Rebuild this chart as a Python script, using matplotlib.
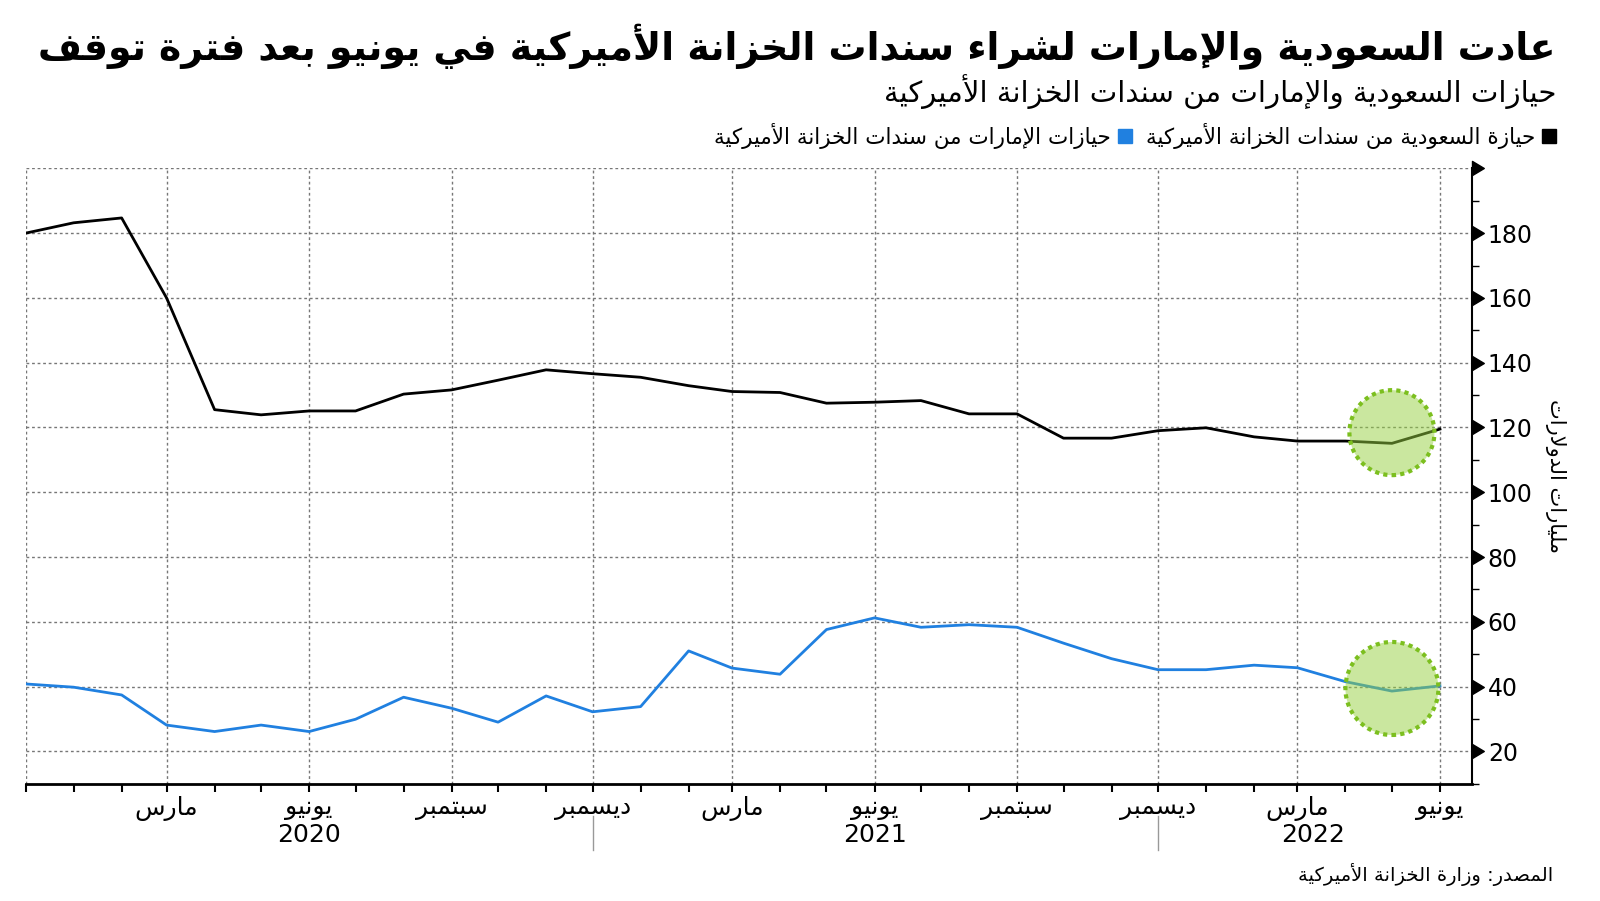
import numpy as np
import pandas as pd
import matplotlib
matplotlib.use('Agg')
import matplotlib.pyplot as plt
import matplotlib.dates as mdates
import matplotlib.ticker as mticker
from matplotlib.path import Path
from matplotlib.patches import Rectangle
from matplotlib.transforms import blended_transform_factory

plt.rcParams['font.family'] = ['DejaVu Sans']

# monthly US treasury holdings, billions of dollars (Dec 2019 - Jun 2022)
months = pd.date_range('2019-12-01', '2022-06-01', freq='MS')
saudi = [180.0, 183.2, 184.7, 160.0, 125.5, 123.9, 125.1, 125.1, 130.3, 131.6,
         134.6, 137.8, 136.6, 135.5, 132.9, 131.1, 130.8, 127.5, 127.8, 128.3,
         124.2, 124.2, 116.7, 116.7, 119.0, 119.9, 117.1, 115.8, 115.8, 115.1, 119.5]
uae = [40.8, 39.8, 37.4, 28.1, 26.1, 28.1, 26.1, 29.9, 36.7, 33.3,
       29.0, 37.1, 32.2, 33.8, 51.0, 45.7, 43.8, 57.6, 61.2, 58.3,
       59.1, 58.3, 53.4, 48.6, 45.2, 45.2, 46.6, 45.8, 41.5, 38.6, 40.2]

month_names = {3: 'مارس', 6: 'يونيو', 9: 'سبتمبر', 12: 'ديسمبر'}
year_labels = ['2020', '2021', '2022']
year_label_dates = ['2020-06-01', '2021-06-01', '2022-03-11']
year_breaks = ['2020-12-01', '2021-12-01']
y_ticks = [20, 40, 60, 80, 100, 120, 140, 160, 180, 200]

# highlighted June restart (circle centres)
highlight_date = '2022-05-01'
highlight_vals = [118.4, 39.4]
highlight_diam = [85, 93]   # pixels

title = 'عادت السعودية والإمارات لشراء سندات الخزانة الأميركية في يونيو بعد فترة توقف'
subtitle = 'حيازات السعودية والإمارات من سندات الخزانة الأميركية'
leg_saudi = 'حيازة السعودية من سندات الخزانة الأميركية'
leg_uae = 'حيازات الإمارات من سندات الخزانة الأميركية'
y_label = 'مليارات الدولارات'
source = 'المصدر: وزارة الخزانة الأميركية'

black = '#000000'
blue = '#2080e0'

# --- small arabic shaper: matplotlib has no shaping / bidi, so use presentation forms
AR_FORMS = {
    'ء': (0xFE80, 1), 'آ': (0xFE81, 2), 'أ': (0xFE83, 2), 'ؤ': (0xFE85, 2), 'إ': (0xFE87, 2),
    'ئ': (0xFE89, 4), 'ا': (0xFE8D, 2), 'ب': (0xFE8F, 4), 'ة': (0xFE93, 2), 'ت': (0xFE95, 4),
    'ث': (0xFE99, 4), 'ج': (0xFE9D, 4), 'ح': (0xFEA1, 4), 'خ': (0xFEA5, 4), 'د': (0xFEA9, 2),
    'ذ': (0xFEAB, 2), 'ر': (0xFEAD, 2), 'ز': (0xFEAF, 2), 'س': (0xFEB1, 4), 'ش': (0xFEB5, 4),
    'ص': (0xFEB9, 4), 'ض': (0xFEBD, 4), 'ط': (0xFEC1, 4), 'ظ': (0xFEC5, 4), 'ع': (0xFEC9, 4),
    'غ': (0xFECD, 4), 'ف': (0xFED1, 4), 'ق': (0xFED5, 4), 'ك': (0xFED9, 4), 'ل': (0xFEDD, 4),
    'م': (0xFEE1, 4), 'ن': (0xFEE5, 4), 'ه': (0xFEE9, 4), 'و': (0xFEED, 2), 'ى': (0xFEEF, 2),
    'ي': (0xFEF1, 4),
}
LAM_ALEF = {'آ': 0xFEF5, 'أ': 0xFEF7, 'إ': 0xFEF9, 'ا': 0xFEFB}


def ar(text):
    items = []
    i = 0
    while i < len(text):
        c = text[i]
        if c == 'ل' and i + 1 < len(text) and text[i + 1] in LAM_ALEF:
            items.append((c, LAM_ALEF[text[i + 1]], 2))
            i += 2
        else:
            base, n = AR_FORMS.get(c, (None, 0))
            items.append((c, base, n))
            i += 1
    out = []
    for k, (c, base, n) in enumerate(items):
        if n == 0:
            out.append(c)
            continue
        prev_j = n >= 2 and k > 0 and items[k - 1][2] == 4
        next_j = n == 4 and k + 1 < len(items) and items[k + 1][2] >= 2
        if n == 1:
            form = base
        elif n == 2:
            form = base + (1 if prev_j else 0)
        elif prev_j and next_j:
            form = base + 3
        elif prev_j:
            form = base + 1
        elif next_j:
            form = base + 2
        else:
            form = base
        out.append(chr(form))
    return ''.join(out)[::-1]


W, H = 1600, 901
fig = plt.figure(figsize=(W / 100, H / 100), dpi=100)
ax = fig.add_axes([0.016, 0.1302, 0.9043, 0.6829])

ax.plot(months, saudi, color=black, lw=2, zorder=3)
ax.plot(months, uae, color=blue, lw=2, zorder=3)

# highlight circles
s_pts = [(d / 100 * 72) ** 2 for d in highlight_diam]
hx = [pd.Timestamp(highlight_date)] * len(highlight_vals)
ax.scatter(hx, highlight_vals, s=s_pts, facecolor=(0.59, 0.82, 0.25, 0.5),
           edgecolor='#7cbf1f', linewidth=3, linestyle=(0, (1, 1)), zorder=4, clip_on=False)

ax.set_xlim(months[0], pd.Timestamp('2022-06-22'))
ax.set_ylim(10, 200)

# axes & spines
for side in ['left', 'top']:
    ax.spines[side].set_visible(False)
ax.spines['bottom'].set_linewidth(2)
ax.spines['right'].set_linewidth(1.5)

ax.xaxis.set_major_locator(mdates.MonthLocator(bymonth=(3, 6, 9, 12)))
ax.xaxis.set_minor_locator(mdates.MonthLocator())
ax.xaxis.set_major_formatter(mticker.FuncFormatter(
    lambda v, p: '' if mdates.num2date(v).month == 12 and mdates.num2date(v).year == 2019
    else ar(month_names[mdates.num2date(v).month])))
ax.tick_params(axis='x', which='both', direction='out', length=6, width=1.5, labelsize=18, pad=3)

ax.yaxis.tick_right()
ax.yaxis.set_label_position('right')
ax.set_yticks(y_ticks)
ax.set_yticklabels([str(v) if v < 200 else '' for v in y_ticks])
ax.set_yticks(np.arange(10, 200, 20), minor=True)
ax.tick_params(axis='y', which='major', length=0, pad=11, labelsize=17)
ax.tick_params(axis='y', which='minor', direction='out', length=5, width=1)

ax.grid(True, which='major', color='#777777', lw=1, ls=(0, (2, 2)))

# triangle markers on the value axis
tri = Path([(0, -0.6), (1.0, 0), (0, 0.6), (0, -0.6)],
           [Path.MOVETO, Path.LINETO, Path.LINETO, Path.CLOSEPOLY])
ytrans = blended_transform_factory(ax.transAxes, ax.transData)
ax.plot([1.0] * len(y_ticks), y_ticks, transform=ytrans, ls='none', marker=tri,
        ms=17, color=black, clip_on=False, zorder=5)

ax.set_ylabel(ar(y_label), rotation=270, fontsize=15, labelpad=9, va='bottom')

# years under the months
xtrans = blended_transform_factory(ax.transData, ax.transAxes)
for lab, d in zip(year_labels, year_label_dates):
    ax.text(pd.Timestamp(d), -0.083, lab, transform=xtrans, ha='center', va='center', fontsize=18)
for d in year_breaks:
    ax.plot([pd.Timestamp(d)] * 2, [-0.052, -0.107], transform=xtrans, color='#999999',
            lw=1, clip_on=False)

# titles
t_title = fig.text(1556 / W, 1 - 47 / H, ar(title), ha='right', va='center',
                   fontsize=28, fontweight='bold')
fig.text(1556 / W, 1 - 92 / H, ar(subtitle), ha='right', va='center', fontsize=21)
fig.text(1553 / W, 1 - 875 / H, ar(source), ha='right', va='center', fontsize=14)

fig.canvas.draw()
renderer = fig.canvas.get_renderer()
# fit the title to the same width as the original
tw = t_title.get_window_extent(renderer).width
t_title.set_fontsize(28 * 1517 / tw)

# legend, laid out right to left
ly = 1 - 136 / H
sq = 14
x = 1556
for lab, col in [(leg_saudi, black), (leg_uae, blue)]:
    fig.add_artist(Rectangle(((x - sq) / W, ly - sq / 2 / H), sq / W, sq / H,
                             transform=fig.transFigure, color=col))
    x -= sq + 7
    t = fig.text(x / W, ly, ar(lab), ha='right', va='center', fontsize=15.5)
    x -= t.get_window_extent(renderer).width + 14

fig.savefig('out.png', dpi=100)
